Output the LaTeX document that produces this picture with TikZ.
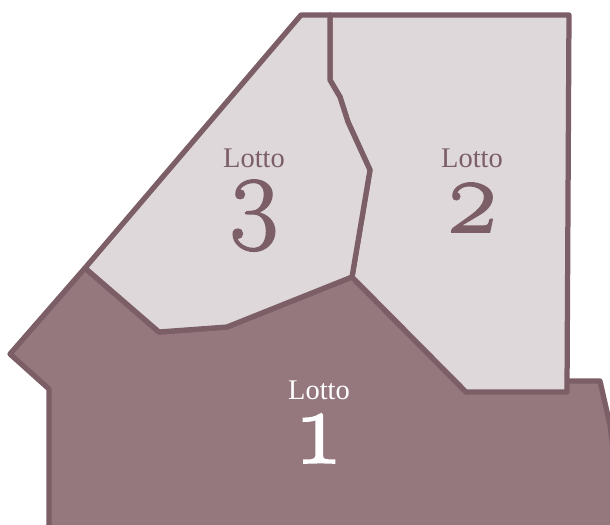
\documentclass[tikz,border=0pt]{standalone}
\usepackage{fontspec}
\setmainfont{Liberation Serif}
\newfontfamily\numfont[Numbers=OldStyle,FakeBold=1.6]{Latin Modern Roman}
\usepackage{tikz}
\definecolor{linea}{HTML}{7C5E67}
\definecolor{scuro}{HTML}{95777E}
\definecolor{chiaro}{HTML}{DED8DB}
\begin{document}
\begin{tikzpicture}[x=0.02cm,y=-0.02cm,
lotto/.style={draw=linea,line width=0.105cm,line join=round},
nome/.style={font=\fontsize{16.2}{17}\selectfont,inner sep=0pt},
cifra/.style={font=\numfont\fontsize{60}{60}\selectfont,inner sep=0pt,anchor=base}]
\useasboundingbox (0,0) rectangle (610,525);
\clip (0,0) rectangle (610,525);
\draw[lotto,fill=scuro] (85,268) -- (10,354) -- (49,389) -- (49,540) -- (625,540) -- (610,425) -- (600,381) -- (560,381) -- (466,392) -- (352,277) -- (227,327) -- (159,332) -- cycle;
\draw[lotto,fill=chiaro] (330,15) -- (569,15) -- (567,392) -- (466,392) -- (352,277) -- (370,170) -- (348,122) -- (340,97) -- (330,80) -- cycle;
\draw[lotto,fill=chiaro] (85,268) -- (301,15) -- (330,15) -- (330,80) -- (340,97) -- (348,122) -- (370,170) -- (352,277) -- (227,327) -- (159,332) -- cycle;
\node[nome,text=white] (a) at (319,390) {Lotto};
\node[cifra,text=white] (b) at (319,463) {1};
\node[nome,text=linea] (c) at (472,158) {Lotto};
\node[cifra,text=linea] (d) at (472,232) {2};
\node[nome,text=linea] (e) at (254,158) {Lotto};
\node[cifra,text=linea] (f) at (254,229) {3};
\end{tikzpicture}
\end{document}
